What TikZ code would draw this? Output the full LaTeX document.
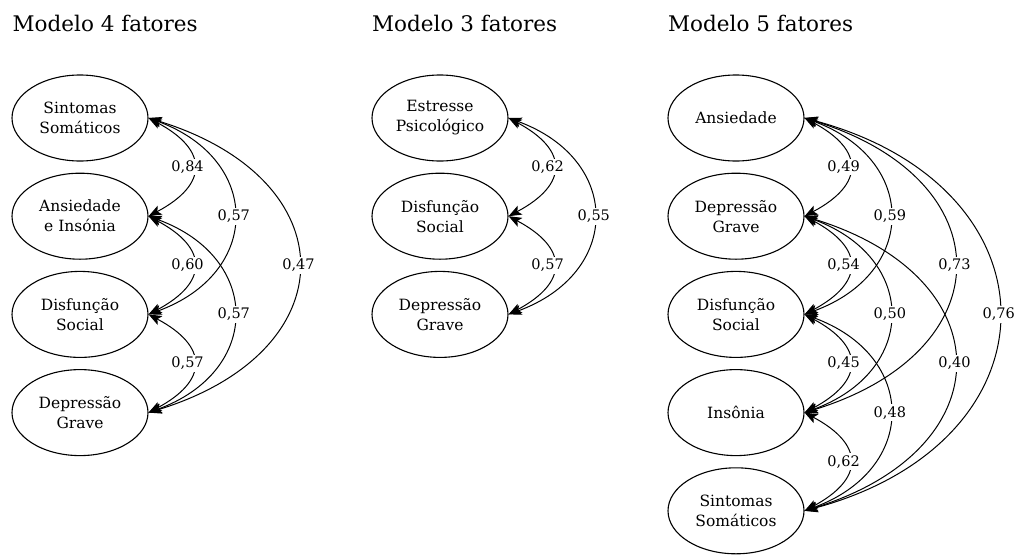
\documentclass[tikz,border=0pt]{standalone}
\usepackage{fontspec}
\setmainfont{DejaVu Serif}
\usetikzlibrary{arrows.meta,shapes.geometric}
\begin{document}
\begin{tikzpicture}[x=1pt,y=1pt,
  lat/.style={ellipse,draw,line width=1.1pt,minimum width=136pt,minimum height=86pt,inner sep=0pt,align=center,font=\fontsize{15.5}{20}\selectfont},
  ttl/.style={anchor=base west,inner sep=0pt,font=\fontsize{21.5}{26}\selectfont},
  cov/.style={line width=1pt,{Stealth[length=13pt,width=10pt,inset=3pt]}-{Stealth[length=13pt,width=10pt,inset=3pt]}},
  lbl/.style={fill=white,inner sep=2pt,font=\fontsize{14.5}{16}\selectfont},
  sa/.style={out=-28,in=28,distance=68pt},
  sb/.style={out=-20,in=20,distance=121pt},
  sc/.style={out=-17,in=17,distance=209pt},
  sd/.style={out=-15,in=15,distance=268pt}
]
\useasboundingbox (0,0) rectangle (1016,-554);

% titles
\node[ttl] (t4) at (12.5,-31) {Modelo 4 fatores};
\node[ttl] (t3) at (372,-31) {Modelo 3 fatores};
\node[ttl] (t5) at (668,-31) {Modelo 5 fatores};

% Modelo 4 fatores
\node[lat] (a1) at (80,-118)   {Sintomas\\Somáticos};
\node[lat] (a2) at (80,-216.2) {Ansiedade\\e Insónia};
\node[lat] (a3) at (80,-314.4) {Disfunção\\Social};
\node[lat] (a4) at (80,-412.6) {Depressão\\Grave};

\draw[cov] (a1.east) to[sa] node[lbl,xshift=-6pt]{0,84} (a2.east);
\draw[cov] (a2.east) to[sa] node[lbl,xshift=-6pt]{0,60} (a3.east);
\draw[cov] (a3.east) to[sa] node[lbl,xshift=-6pt]{0,57} (a4.east);
\draw[cov] (a1.east) to[sb] node[lbl]{0,57} (a3.east);
\draw[cov] (a2.east) to[sb] node[lbl]{0,57} (a4.east);
\draw[cov] (a1.east) to[sc] node[lbl]{0,47} (a4.east);

% Modelo 3 fatores
\node[lat] (b1) at (440,-118)   {Estresse\\Psicológico};
\node[lat] (b2) at (440,-216.2) {Disfunção\\Social};
\node[lat] (b3) at (440,-314.4) {Depressão\\Grave};

\draw[cov] (b1.east) to[sa] node[lbl,xshift=-6pt]{0,62} (b2.east);
\draw[cov] (b2.east) to[sa] node[lbl,xshift=-6pt]{0,57} (b3.east);
\draw[cov] (b1.east) to[sb] node[lbl]{0,55} (b3.east);

% Modelo 5 fatores
\node[lat] (c1) at (736,-118)   {Ansiedade};
\node[lat] (c2) at (736,-216.2) {Depressão\\Grave};
\node[lat] (c3) at (736,-314.4) {Disfunção\\Social};
\node[lat] (c4) at (736,-412.6) {Insônia};
\node[lat] (c5) at (736,-510.8) {Sintomas\\Somáticos};

\draw[cov] (c1.east) to[sd] node[lbl]{0,76} (c5.east);
\draw[cov] (c1.east) to[sc] node[lbl]{0,73} (c4.east);
\draw[cov] (c2.east) to[sc] node[lbl]{0,40} (c5.east);
\draw[cov] (c1.east) to[sb] node[lbl]{0,59} (c3.east);
\draw[cov] (c2.east) to[sb] node[lbl]{0,50} (c4.east);
\draw[cov] (c3.east) to[sb] node[lbl]{0,48} (c5.east);
\draw[cov] (c1.east) to[sa] node[lbl,xshift=-6pt]{0,49} (c2.east);
\draw[cov] (c2.east) to[sa] node[lbl,xshift=-6pt]{0,54} (c3.east);
\draw[cov] (c3.east) to[sa] node[lbl,xshift=-6pt]{0,45} (c4.east);
\draw[cov] (c4.east) to[sa] node[lbl,xshift=-6pt]{0,62} (c5.east);
\end{tikzpicture}
\end{document}
